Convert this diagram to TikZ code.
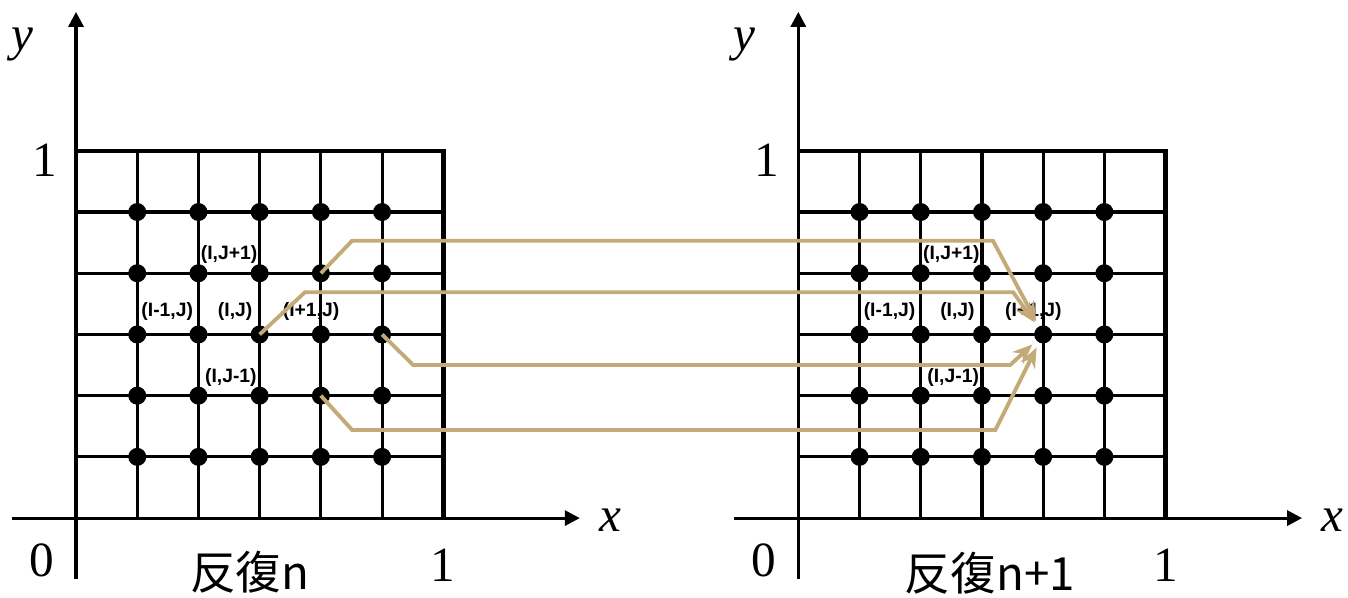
\documentclass[tikz,border=0pt]{standalone}
\usepackage{fontspec}
\setmainfont{Liberation Serif}
\newfontfamily\cjk{Noto Sans CJK TC}
\newfontfamily\lblfont{Liberation Sans}
\usetikzlibrary{arrows.meta, positioning, calc}
\definecolor{flowtan}{RGB}{196, 170, 120}

\begin{document}
\begin{tikzpicture}[x=1.224cm, y=1.224cm,
    dot/.style={circle, fill=black, inner sep=0pt, minimum size=0.36cm},
    gridline/.style={line width=1.8pt},
    frame/.style={line width=2.6pt},
    axis/.style={line width=1.8pt, -{Triangle[length=3mm,width=3mm]}},
    flow/.style={line width=2.2pt, flowtan, -{Stealth[length=4mm,width=3.2mm]}, shorten >=3pt},
    idx/.style={font=\lblfont\bfseries\fontsize{11}{11}\selectfont, inner sep=0pt},
    num/.style={font=\fontsize{28}{28}\selectfont, inner sep=0pt},
    iter/.style={font=\cjk\fontsize{26}{26}\selectfont, inner sep=0pt},
]
\useasboundingbox (-1.242,-1.291) rectangle (20.78,8.464);

% the two iteration panels
\foreach \p/\ox in {L/0, R/11.8} {
  \begin{scope}[shift={(\ox,0)}]
    \foreach \k in {1,...,5} {
      \draw[gridline] (\k,0) -- (\k,6);
      \draw[gridline] (0,\k) -- (6,\k);
    }
    \draw[frame] (0,6) -- (6,6) -- (6,0);
    \draw[axis] (-1.05,0) -- (8.23,0);
    \draw[axis] (0,-1.0) -- (0,8.27);
    \foreach \i in {1,...,5}
      \foreach \j in {1,...,5}
        \node[dot] (\p-\i-\j) at (\i,\j) {};
    \node[num] (\p-xl) at (8.73,-0.03) {\itshape x};
    \node[num] (\p-yl) at (-0.88,7.73) {\itshape y};
    \node[num] (\p-one) at (-0.51,5.85) {1};
    \node[num] (\p-zero) at (-0.56,-0.69) {0};
    \node[num] (\p-xone) at (6.0,-0.77) {1};
    \node[idx] (\p-up) at (2.5,4.3) {(I,J+1)};
    \node[idx] (\p-lt) at (1.49,3.37) {(I-1,J)};
    \node[idx] (\p-mid) at (2.6,3.37) {(I,J)};
    \node[idx] (\p-rt) at (3.84,3.37) {(I+1,J)};
    \node[idx] (\p-dn) at (2.53,2.3) {(I,J-1)};
  \end{scope}
}

\node[iter] (itn) at (2.84,-0.88) {反復n};
\node[iter] (itnext) at (14.93,-0.9) {反復n+1};

% values carried to the next iteration
\draw[flow] (L-4-4.center) -- (4.51,4.53) -- (14.98,4.53) -- (R-4-3);
\draw[flow] (L-3-3.center) -- (3.74,3.69) -- (15.31,3.69) -- (R-4-3);
\draw[flow] (L-5-3.center) -- (5.51,2.5) -- (15.26,2.5) -- (R-4-3);
\draw[flow] (L-4-2.center) -- (4.51,1.44) -- (15.02,1.44) -- (R-4-3);

\end{tikzpicture}
\end{document}
